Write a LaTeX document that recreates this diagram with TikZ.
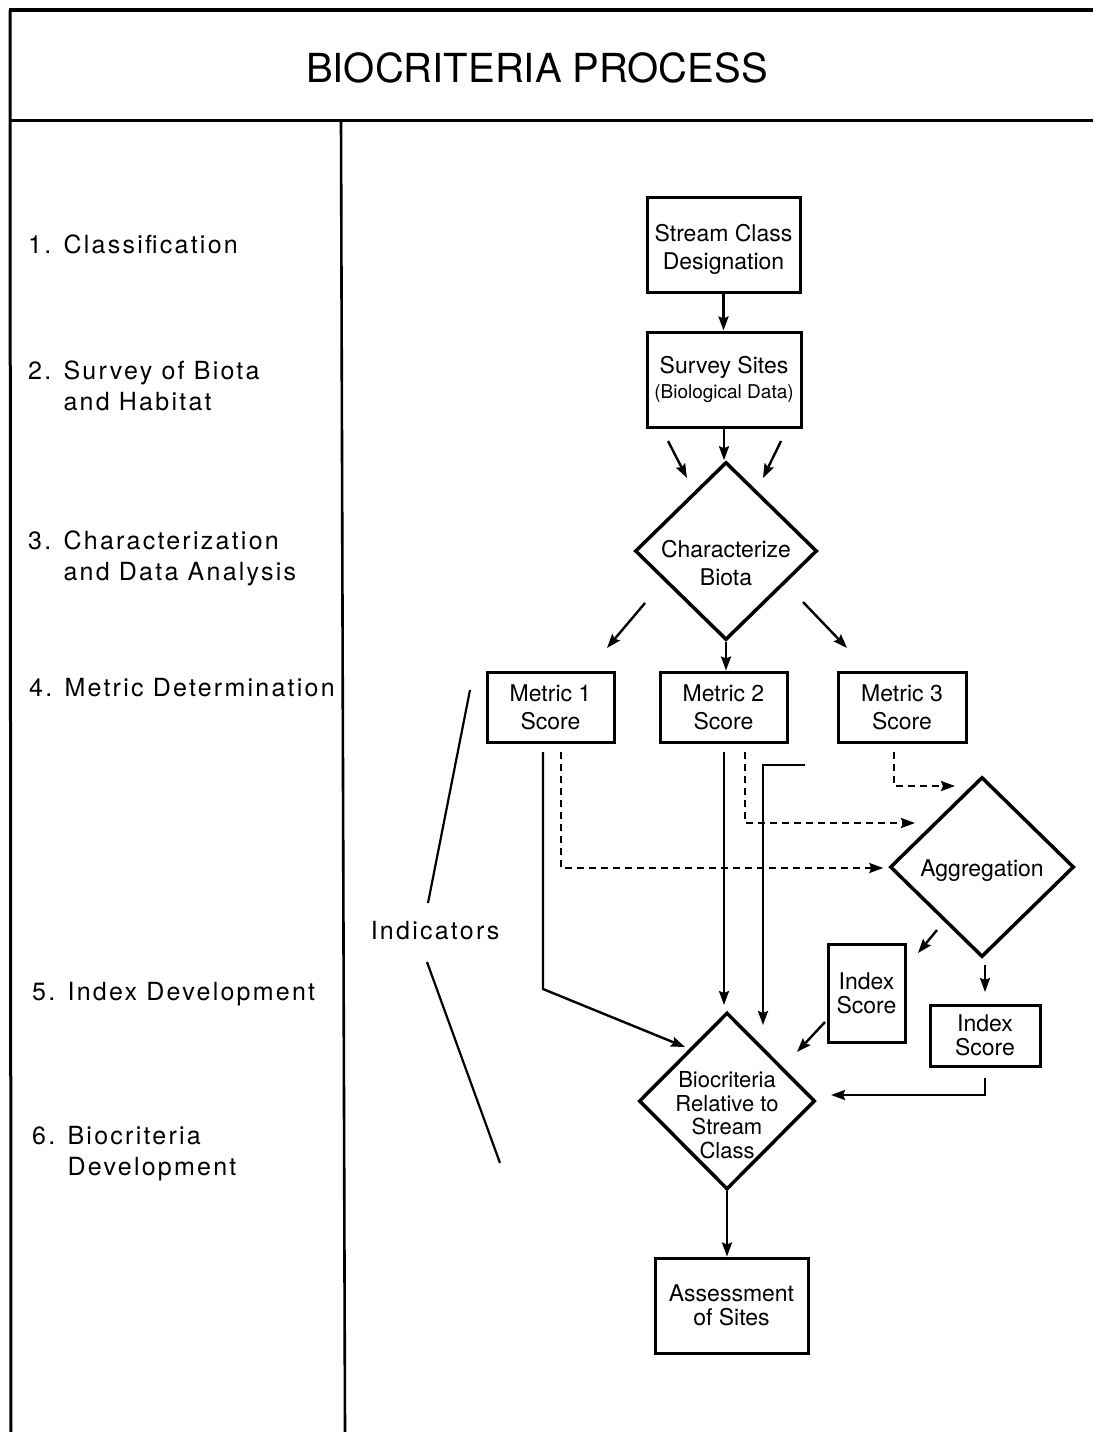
\documentclass[tikz,border=0pt]{standalone}
\usepackage{fontspec}
\setmainfont{TeX Gyre Heros}
\newfontfamily\lblfam[LetterSpace=9]{TeX Gyre Heros}
\usetikzlibrary{shapes.geometric,arrows.meta}
\newcommand\mybx{\fontsize{23}{28}\selectfont}
\newcommand\mylbl{\lblfam\fontsize{25}{31}\selectfont}
\begin{document}
\begin{tikzpicture}[x=1pt,y=-1pt,
  box/.style={draw, line width=3pt, inner sep=0pt, align=center, font=\mybx},
  dia/.style={draw, diamond, line width=3.5pt, inner sep=0pt},
  con/.style={line width=2.4pt, -{Stealth[length=14pt,width=10pt,inset=2pt]}},
  dsh/.style={con, dash pattern=on 7pt off 5pt},
  lbl/.style={anchor=west, align=left, inner sep=0pt, font=\mylbl},
  thin/.style={line width=2.2pt}
]
\useasboundingbox (0,0) rectangle (1093,1432);
% frame
\draw[line width=4pt] (8.5,10) -- (1093,10);
\draw[line width=3pt] (10,10) -- (11,1432);
\draw[line width=3pt] (10,120) -- (1093,120);
\draw[line width=2.6pt] (341,120) -- (345,1432);
\node[font=\fontsize{40}{48}\selectfont] (title) at (537,68) {BIOCRITERIA PROCESS};
% left labels
\node[lbl] (l1) at (28,244) {1. Classification};
\node[lbl] (l2) at (28,386) {2. Survey of Biota\\\phantom{2. }and Habitat};
\node[lbl] (l3) at (28,558.5) {3. Characterization\\\phantom{3. }and Data Analysis};
\node[lbl] (l4) at (29,688) {4. Metric Determination};
\node[lbl] (l5) at (32,994) {5. Index Development};
\node[lbl] (l6) at (32,1154) {6. Biocriteria\\\phantom{6. }Development};
\node[font=\mylbl, inner sep=0pt] (ind) at (435,931) {Indicators};
% nodes
\node[box, minimum width=153pt, minimum height=95pt] (sc) at (723.5,244.5) {\raisebox{-5pt}[\height][\depth]{\begin{tabular}{@{}c@{}}Stream Class\\Designation\end{tabular}}};
\node[box, minimum width=154pt, minimum height=95pt] (ss) at (724,379.5) {Survey Sites\\[-3pt]{\fontsize{19}{22}\selectfont (Biological Data)}};
\node[dia, minimum width=182pt, minimum height=178pt,
  label={[font=\mybx, align=center, yshift=-12pt]center:Characterize\\Biota}] (cb) at (726,551) {};
\node[box, minimum width=127pt, minimum height=70pt] (m1) at (550.5,707) {Metric 1\\Score};
\node[box, minimum width=127pt, minimum height=70pt] (m2) at (723.5,707) {Metric 2\\Score};
\node[box, minimum width=128pt, minimum height=70pt] (m3) at (902,707) {Metric 3\\Score};
\node[dia, minimum width=184pt, minimum height=180pt,
  label={[font=\mybx, align=center, yshift=-4pt]center:Aggregation}] (ag) at (982,867) {};
\node[box, minimum width=77pt, minimum height=98pt, font=\fontsize{23}{24}\selectfont] (is1) at (866.5,993) {Index\\Score};
\node[box, minimum width=110pt, minimum height=61pt, font=\fontsize{23}{24}\selectfont] (is2) at (985,1035.5) {Index\\Score};
\node[dia, minimum width=176pt, minimum height=177pt,
  label={[font=\fontsize{22}{23.5}\selectfont, align=center, yshift=-14pt]center:Biocriteria\\Relative to\\Stream\\Class}] (bc) at (727,1101) {};
\node[box, minimum width=153pt, minimum height=95pt, font=\fontsize{23}{24}\selectfont] (as) at (731.5,1305.5) {Assessment\\of Sites};
% free-end coordinates
\coordinate (a1s) at (668,441); \coordinate (a1e) at (687,478);
\coordinate (a2s) at (781,441); \coordinate (a2e) at (763,478);
\coordinate (b1s) at (645,603); \coordinate (b1e) at (607,648);
\coordinate (b3s) at (803,602); \coordinate (b3e) at (847,648);
\coordinate (m1a) at (543,752); \coordinate (m1b) at (543,989); \coordinate (m1c) at (685,1047);
\coordinate (m1d) at (561,752); \coordinate (m1f) at (561,868);
\coordinate (m2a) at (724,752); \coordinate (m2c) at (724,1005);
\coordinate (m2d) at (745,752); \coordinate (m2f) at (745,823); \coordinate (m2g) at (915,823);
\coordinate (la) at (805,765); \coordinate (lb) at (763,765); \coordinate (lc) at (763,1025);
\coordinate (m3d) at (894,752); \coordinate (m3f) at (894,786); \coordinate (m3g) at (955,786);
\coordinate (g1a) at (937,930); \coordinate (g1b) at (918,953);
\coordinate (g2a) at (985,965); \coordinate (g2b) at (985,992);
\coordinate (i1a) at (825,1022); \coordinate (i1b) at (797,1052);
\coordinate (i2a) at (985,1078); \coordinate (i2b) at (985,1095); \coordinate (i2c) at (831,1095);
\coordinate (u1) at (470,690); \coordinate (u2) at (428,903);
\coordinate (v1) at (427,962); \coordinate (v2) at (500,1163);
% connectors
\draw[con] (sc.south) -- (sc.south |- ss.north);
\draw[con] (ss.south) -- (ss.south |- cb.north);
\draw[con] (a1s) -- (a1e);
\draw[con] (a2s) -- (a2e);
\draw[con] (b1s) -- (b1e);
\draw[con] (cb.south) -- (cb.south |- m2.north);
\draw[con] (b3s) -- (b3e);
\draw[con] (m1a) -- (m1b) -- (m1c);
\draw[dsh] (m1d) -- (m1f) -- ([xshift=-5pt]ag.west |- m1f);
\draw[con] (m2a) -- (m2c);
\draw[dsh] (m2d) -- (m2f) -- (m2g);
\draw[con] (la) -- (lb) -- (lc);
\draw[dsh] (m3d) -- (m3f) -- (m3g);
\draw[con] (g1a) -- (g1b);
\draw[con] (g2a) -- (g2b);
\draw[con] (i1a) -- (i1b);
\draw[con] (i2a) -- (i2b) -- (i2c);
\draw[con] (bc.south) -- (bc.south |- as.north);
\draw[thin] (u1) -- (u2);
\draw[thin] (v1) -- (v2);
\end{tikzpicture}
\end{document}
